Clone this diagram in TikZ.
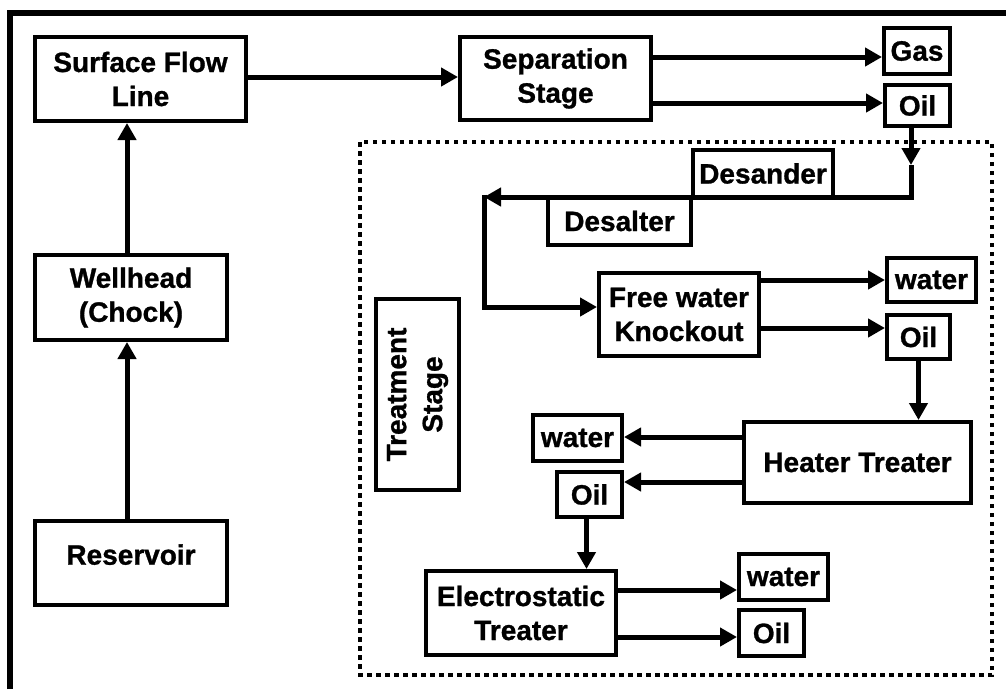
\documentclass[tikz,border=0pt]{standalone}
\usepackage{fontspec}
\setmainfont{Liberation Sans}[BoldFeatures={FakeBold=1}]
\usetikzlibrary{arrows.meta}
\begin{document}
\begin{tikzpicture}[x=1pt,y=-1pt,
  blk/.style={draw, line width=4pt, inner sep=0pt, align=center, font=\bfseries\fontsize{28}{34}\selectfont},
  arr/.style={line width=5pt, -{Triangle[length=17pt,width=18pt]}},
  dotbox/.style={line width=4pt, dash pattern=on 4.5pt off 4.5pt},
  frame/.style={line width=6pt}]
\useasboundingbox (0,0) rectangle (1006,689);
% outer frame (top and left edges visible)
\draw[frame] (10,689) -- (10,13) -- (1006,13);
% treatment stage dotted area
\draw[dotbox] (360,142) rectangle (992,675);

% upper chain
\node[blk, minimum width=211pt, minimum height=84pt] (sfl) at (140.5,79) {Surface Flow\\Line};
\node[blk, minimum width=191pt, minimum height=83pt] (sep) at (555.5,78.5) {Separation\\Stage};
\node[blk, minimum width=66pt, minimum height=46pt] (gas) at (917,51) {Gas};
\node[blk, minimum width=65pt, minimum height=41pt] (oil1) at (917.5,105.5) {Oil};
\node[blk, minimum width=192pt, minimum height=85pt] (well) at (131,297.5) {Wellhead\\(Chock)};
\node[blk, minimum width=192pt, minimum height=84pt, text depth=17pt] (res) at (131,563) {Reservoir};

% treatment stage
\node[blk, rotate=90, minimum width=191pt, minimum height=83pt,
      font=\bfseries\fontsize{28}{36}\selectfont] (ts) at (417.5,394.5) {Treatment\\Stage};
\node[blk, minimum width=140pt, minimum height=47pt] (desander) at (763,173.5) {Desander};
\node[blk, minimum width=143pt, minimum height=48pt] (desalter) at (619.5,221) {Desalter};
\node[blk, minimum width=160pt, minimum height=83pt] (fwko) at (679,314.5) {Free water\\Knockout};
\node[blk, minimum width=89pt, minimum height=44pt] (water1) at (931.5,280) {water};
\node[blk, minimum width=63pt, minimum height=44pt] (oil2) at (918.5,337) {Oil};
\node[blk, minimum width=227pt, minimum height=81pt] (heater) at (857.5,462.5) {Heater Treater};
\node[blk, minimum width=89pt, minimum height=46pt] (water2) at (577.5,438) {water};
\node[blk, minimum width=65pt, minimum height=45pt] (oil3) at (589.5,494.5) {Oil};
\node[blk, minimum width=190pt, minimum height=84pt] (et) at (521,613) {Electrostatic\\Treater};
\node[blk, minimum width=89pt, minimum height=46pt] (water3) at (783.5,577) {water};
\node[blk, minimum width=65pt, minimum height=46pt] (oil4) at (771.5,633) {Oil};

% connectors, upper chain
\draw[arr] ([xshift=-4pt]res.north) -- ([xshift=-4pt]res.north |- well.south);
\draw[arr] ([xshift=-4pt]well.north) -- ([xshift=-4pt]well.north |- sfl.south);
\draw[arr] ([yshift=2pt]sfl.east) -- ([yshift=2pt]sfl.east -| sep.west);
\draw[arr] ([yshift=21.5pt]sep.east) -- ([yshift=21.5pt]sep.east -| gas.west);
\draw[arr] ([yshift=-24.5pt]sep.east) -- ([yshift=-24.5pt]sep.east -| oil1.west);

% oil through desander / desalter to free water knockout
\coordinate (d1) at (911,165);
\coordinate (d2) at (911,197);
\coordinate (d3) at (484,197);
\coordinate (d4) at (484,307);
\draw[arr] (oil1.south -| d1) -- (d1);
\draw[arr] (d1) -- (d2) -- (d3);
\draw[arr, shorten <=-2.5pt] (d3) -- (d4) -- (d4 -| fwko.west);

% free water knockout outputs
\draw[arr] (fwko.east |- 0,280) -- (water1.west |- 0,280);
\draw[arr] (fwko.east |- 0,328) -- (oil2.west |- 0,328);
\draw[arr] (oil2.south) -- (oil2.south |- heater.north);

% heater treater outputs
\draw[arr] (heater.west |- 0,437) -- (water2.east |- 0,437);
\draw[arr] (heater.west |- 0,482) -- (oil3.east |- 0,482);
\draw[arr] ([xshift=-3pt]oil3.south) -- ([xshift=-3pt]oil3.south |- et.north);

% electrostatic treater outputs
\draw[arr] (et.east |- 0,590) -- (water3.west |- 0,590);
\draw[arr] (et.east |- 0,637) -- (oil4.west |- 0,637);
\end{tikzpicture}
\end{document}
